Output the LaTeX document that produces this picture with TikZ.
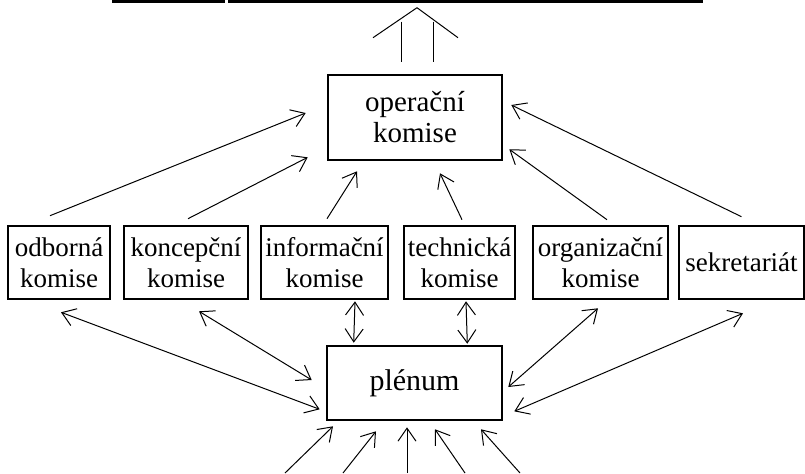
\documentclass[tikz,border=0pt]{standalone}
\usepackage{fontspec}
\setmainfont{Liberation Serif}
\usetikzlibrary{%
	arrows.meta,%
	calc
}

\tikzset{
	unit/.style={draw, line width=1.3pt, inner sep=1pt, align=center,
		font=\fontsize{13.5}{15.5}\selectfont, minimum height=36.5pt},
	big/.style={font=\fontsize{14.5}{15.5}\selectfont},
	bar/.style={line width=1.3pt}
}

\begin{document}
\begin{tikzpicture}[x=0.5pt, y=-0.5pt, line width=0.5pt, >={Straight Barb[length=6.5pt,width=9pt]}]
				\useasboundingbox (0,0) rectangle (805,473);
				
				% Boxes
				\node[unit, big, minimum width=87pt, minimum height=42.5pt] (op) at (415,117.5) {operační\\komise};
				\node[unit, minimum width=51pt] (odb) at (59,262.5) {odborná\\komise};
				\node[unit, minimum width=62pt] (kon) at (186,262.5) {koncepční\\komise};
				\node[unit, minimum width=63.5pt] (inf) at (324.5,262.5) {informační\\komise};
				\node[unit, minimum width=55.5pt] (tech) at (459.5,262.5) {technická\\komise};
				\node[unit, minimum width=67.5pt] (org) at (600.5,262.5) {organizační\\komise};
				\node[unit, minimum width=62.5pt] (sek) at (741.5,262.5) {sekretariát};
				\node[unit, font=\fontsize{15}{17}\selectfont, minimum width=87.5pt, minimum height=37pt] (plen) at (414.5,383) {plénum};
				
				% Top bar
				\coordinate (t1) at (112,1.5);
				\coordinate (t2) at (225,1.5);
				\coordinate (t3) at (228,1.5);
				\coordinate (t4) at (703,1.5);
				\draw[bar] (t1) -- (t2) (t3) -- (t4);
				
				% Hollow arrow up
				\coordinate (apex) at ([shift={(2,-66)}]op.north);
				\draw (apex) -- ([shift={(-42,-36)}]op.north);
				\draw (apex) -- ([shift={(43,-36)}]op.north);
				\draw ([shift={(-14,-52)}]op.north) -- ([shift={(-14,-12)}]op.north);
				\draw ([shift={(18,-52)}]op.north) -- ([shift={(18,-12)}]op.north);
				
				% Up to operacni komise
				\draw[->] ([shift={(-9,-9)}]odb.north) -- ([shift={(-21,-4.5)}]op.west);
				\draw[->] ([shift={(2,-6)}]kon.north) -- ([shift={(-19,-4)}]op.south west);
				\draw[->] ([shift={(2.5,-6)}]inf.north) -- ([shift={(-58,10)}]op.south);
				\draw[->] ([shift={(2.5,-5)}]tech.north) -- ([shift={(25,12)}]op.south);
				\draw[->] ([shift={(6.5,-5)}]org.north) -- ([shift={(6,-12)}]op.south east);
				\draw[->] ([shift={(0,-8)}]sek.north) -- ([shift={(8,-12.5)}]op.east);
				
				% Commissions and plenum
				\draw[<->] ([shift={(2,12)}]odb.south) -- ([shift={(-6,-12)}]plen.south west);
				\draw[<->] ([shift={(13,11)}]kon.south) -- ([shift={(-14,-3)}]plen.west);
				\draw[<->] ([shift={(30.5,1)}]inf.south) -- ([shift={(28,-2)}]plen.north west);
				\draw[<->] ([shift={(6.5,1)}]tech.south) -- ([shift={(-36,-1)}]plen.north east);
				\draw[<->] ([shift={(-2.5,8)}]org.south) -- ([shift={(5,4)}]plen.east);
				\draw[<->] ([shift={(1.5,13)}]sek.south) -- ([shift={(11,-10)}]plen.south east);
				
				% From below
				\foreach \i/\x/\dx/\dy in {1/285/-81.5/5, 2/343/-38.5/10, 3/407/-7.5/6, 4/465/20.5/8, 5/520/66.5/8}{
					\coordinate (b\i) at (\x,473);
					\draw[->] (b\i) -- ([shift={(\dx,\dy)}]plen.south);
				}
			\end{tikzpicture}
\end{document}
